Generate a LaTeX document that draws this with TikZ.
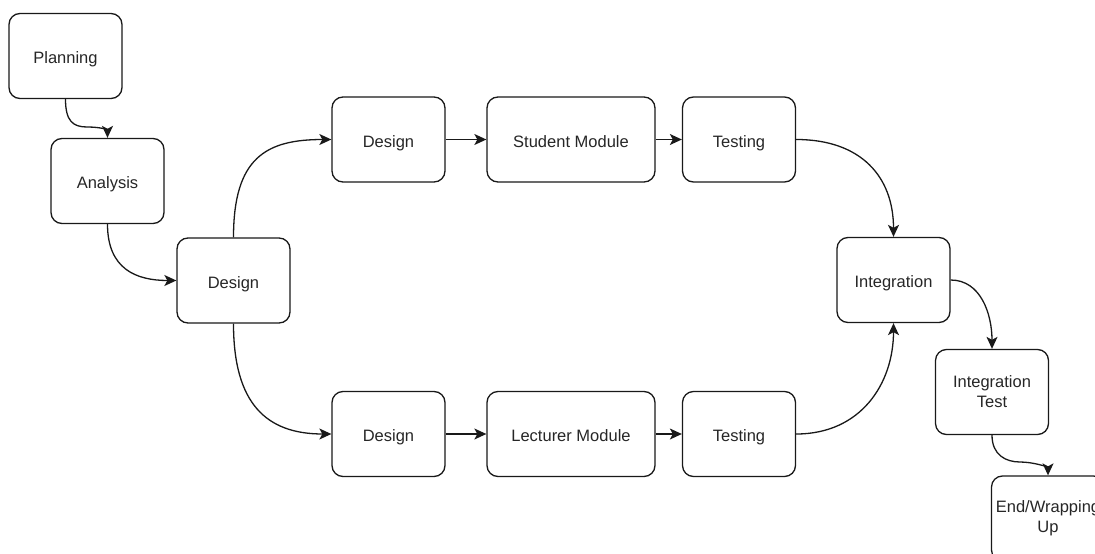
\documentclass[tikz,border=0pt]{standalone}
\usepackage{fontspec}
\setmainfont{Liberation Sans}
\usetikzlibrary{arrows.meta}
\begin{document}
\begin{tikzpicture}[x=1pt,y=-1pt,
  base/.style={draw=black!90, line width=1.3pt, rounded corners=11pt, minimum width=113pt, minimum height=85pt, inner sep=0pt, align=center, font=\fontsize{16.5}{20}\selectfont, text=black!85},
  box/.style={base, text height=15pt, text depth=0pt},
  wide/.style={box, minimum width=168pt},
  arr/.style={draw=black!90, line width=1.3pt, -{Stealth[length=12pt,width=11pt,inset=3pt]}}
]
\useasboundingbox (0,0) rectangle (1095,554);
\clip (0,0) rectangle (1095,554);

\node[box] (pl) at (65.5,56) {Planning};
\node[box] (an) at (107.5,181) {Analysis};
\node[box] (de) at (233.5,280.5) {Design};
\node[box] (d1) at (388.5,139.5) {Design};
\node[wide] (sm) at (571,139.5) {Student Module};
\node[box] (t1) at (739,139.5) {Testing};
\node[box] (d2) at (388.5,434) {Design};
\node[wide] (lm) at (571,434) {Lecturer Module};
\node[box] (t2) at (739,434) {Testing};
\node[box] (in) at (893.5,280) {Integration};
\node[base] (it) at (992,392) {Integration\\Test};
\node[base] (en) at (1048,518.5) {End/Wrapping\\Up};

\coordinate (m1) at (87,127);
\coordinate (m2) at (1020,462);

\draw[arr] (pl.south) .. controls +(0,22) and +(-14,0) .. (m1) .. controls +(14,0) and +(0,-8) .. (an.north);
\draw[arr] (an.south) .. controls +(0,45) and +(-40,0) .. (de.west);
\draw[arr] (de.north) .. controls +(0,-80) and +(-65,0) .. (d1.west);
\draw[arr] (de.south) .. controls +(0,80) and +(-65,0) .. (d2.west);
\draw[arr] (d1) -- (sm);
\draw[arr] (sm) -- (t1);
\draw[arr] (d2) -- (lm);
\draw[arr] (lm) -- (t2);
\draw[arr] (t1.east) .. controls +(65,0) and +(0,-60) .. (in.north);
\draw[arr] (t2.east) .. controls +(65,0) and +(0,60) .. (in.south);
\draw[arr] (in.east) .. controls +(30,0) and +(0,-35) .. (it.north);
\draw[arr] (it.south) .. controls +(0,20) and +(-14,0) .. (m2) .. controls +(14,0) and +(0,-8) .. (en.north);
\end{tikzpicture}
\end{document}
